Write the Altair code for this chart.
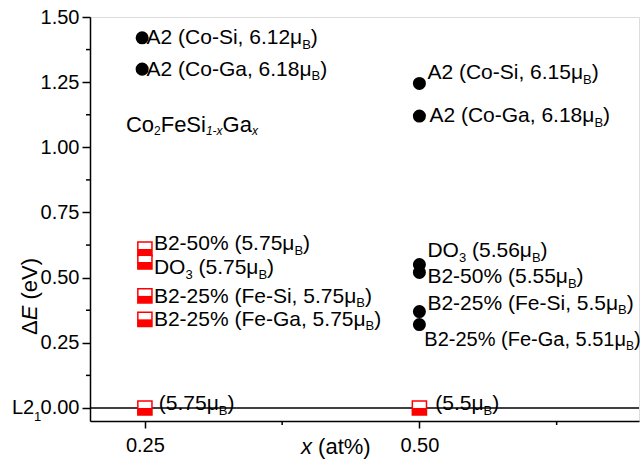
import re
import altair as alt
import pandas as pd

# ---------------- data ----------------
circle_x = [0.2475, 0.2475, 0.50, 0.50, 0.50, 0.50, 0.50, 0.50]
circle_y = [1.42, 1.30, 1.245, 1.12, 0.55, 0.52, 0.37, 0.32]

square_x = [0.25, 0.25, 0.25, 0.25, 0.25, 0.50]
square_y = [0.61, 0.56, 0.43, 0.34, 0.00, 0.00]

label_text = [
    "A2 (Co-Si, 6.12μ_{B})",
    "A2 (Co-Ga, 6.18μ_{B})",
    "A2 (Co-Si, 6.15μ_{B})",
    "A2 (Co-Ga, 6.18μ_{B})",
    "B2-50% (5.75μ_{B})",
    "DO_{3} (5.75μ_{B})",
    "B2-25% (Fe-Si, 5.75μ_{B})",
    "B2-25% (Fe-Ga, 5.75μ_{B})",
    "DO_{3} (5.56μ_{B})",
    "B2-50% (5.55μ_{B})",
    "B2-25% (Fe-Si, 5.5μ_{B})",
    "B2-25% (Fe-Ga, 5.51μ_{B})",
    "(5.75μ_{B})",
    "(5.5μ_{B})",
    "Co_{2}FeSi~{1-x}Ga~{x}",
]
label_x = [0.2515, 0.2515, 0.5073, 0.5091, 0.2582, 0.2582, 0.2582, 0.2582,
           0.5073, 0.5073, 0.5073, 0.5045, 0.2627, 0.5145, 0.2327]
label_y = [1.419, 1.297, 1.285, 1.120, 0.629, 0.537, 0.426, 0.338,
           0.602, 0.502, 0.399, 0.261, 0.015, 0.015, 1.086]
label_size = [21] * 11 + [20, 21, 21, 22]
label_sub = [13] * 11 + [12, 13, 13, 12]

x_ticks = [0.25, 0.50]
x_minor = [0.375, 0.625]
y_ticks = [0.0, 0.25, 0.50, 0.75, 1.00, 1.25, 1.50]
y_minor = [0.125, 0.375, 0.625, 0.875, 1.125, 1.375]

# ---------------- plot geometry ----------------
PW, PH = 549, 404
XD = [0.2, 0.7]
YD = [-0.05, 1.5]
XU = (XD[1] - XD[0]) / PW   # data units per pixel
YU = (YD[1] - YD[0]) / PH

# ---------------- text layout helpers ----------------
FONT = "Liberation Sans"
W = {" ": 278, "%": 889, "(": 333, ")": 333, ",": 278, "-": 333,
     ".": 278, "A": 667, "B": 667, "C": 722, "D": 722, "E": 667, "F": 611,
     "G": 778, "L": 556, "O": 778, "S": 667, "a": 556, "e": 556, "i": 222,
     "o": 556, "t": 278, "x": 500, "μ": 576, "Δ": 668, "V": 667, "v": 500}


def width(s, fs):
    return sum(W.get(c, 556) for c in s) * fs / 1000.0


SUB_DROP = 6.5
rows = []
for t, lx, ly, fs, sub in zip(label_text, label_x, label_y, label_size, label_sub):
    off = 0.0
    for part in re.split(r"(_\{[^}]*\}|~\{[^}]*\})", t):
        if not part:
            continue
        is_sub = part.startswith("_{") or part.startswith("~{")
        s = part[2:-1] if is_sub else part
        size = sub if is_sub else fs
        stripped = s.lstrip(" ")
        off += width(s[: len(s) - len(stripped)], size)   # leading blanks
        rows.append(dict(t=stripped, x=lx + off * XU,
                         y=ly - (SUB_DROP * YU if is_sub else 0.0),
                         fs=size, it=1 if part.startswith("~{") else 0))
        off += width(stripped, size)
text_df = pd.DataFrame(rows)

# ---------------- scales and axes ----------------
xs = alt.Scale(domain=XD, nice=False, zero=False)
ys = alt.Scale(domain=YD, nice=False, zero=False)
xaxis = alt.Axis(values=x_ticks, format=".2f", title=None, grid=False,
                 tickSize=7, tickWidth=1.5, tickColor="black",
                 domainColor="black", domainWidth=1.5,
                 labelFontSize=20, labelColor="black", labelPadding=7,
                 labelFont=FONT)
yaxis = alt.Axis(values=y_ticks, format=".2f", title=None, grid=False,
                 tickSize=8, tickWidth=1.5, tickColor="black",
                 domainColor="black", domainWidth=1.5,
                 labelFontSize=20, labelColor="black", labelPadding=3,
                 labelFont=FONT)

X = lambda f: alt.X(f, scale=xs, axis=xaxis)
Y = lambda f: alt.Y(f, scale=ys, axis=yaxis)

pts = pd.DataFrame({"x": circle_x, "y": circle_y})
sq = pd.DataFrame({"x": square_x, "y": square_y})

zero_rule = alt.Chart(pd.DataFrame({"y": [0.0]})).mark_rule(
    color="black", strokeWidth=1.5).encode(y=Y("y:Q"))

circles = alt.Chart(pts).mark_circle(size=170, color="black", opacity=1).encode(
    x=X("x:Q"), y=Y("y:Q"))

sq_box = alt.Chart(sq).mark_point(shape="square", size=200, filled=True,
                                  fill="white", stroke="#ff0000",
                                  strokeWidth=1.5, opacity=1).encode(
    x=X("x:Q"), y=Y("y:Q"))
sq_half = alt.Chart(sq).mark_point(shape="M-1,0H1V1H-1Z", size=200, filled=True,
                                   color="#ff0000", opacity=1).encode(
    x=X("x:Q"), y=Y("y:Q"))


def text_layer(italic):
    return alt.Chart(text_df).transform_filter(
        alt.datum.it == italic
    ).mark_text(align="left", baseline="middle", font=FONT, color="black",
                fontStyle="italic" if italic else "normal").encode(
        x=X("x:Q"), y=Y("y:Q"),
        size=alt.Size("fs:Q", scale=None, legend=None),
        text="t:N")


minor_x = alt.Chart(pd.DataFrame({"x": x_minor})).mark_rule(
    color="black", strokeWidth=1.5).encode(
    x=X("x:Q"), y=alt.value(PH), y2=alt.value(PH + 4))
minor_y = alt.Chart(pd.DataFrame({"y": y_minor})).mark_rule(
    color="black", strokeWidth=1.5).encode(
    y=Y("y:Q"), x=alt.value(-4), x2=alt.value(0))

# L2_1 label left of the 0.00 tick
l2 = alt.Chart(pd.DataFrame({"y": [0.0], "t": ["L2"]})).mark_text(
    align="left", baseline="middle", font=FONT, fontSize=20, color="black"
).encode(x=alt.value(-78), y=Y("y:Q"), text="t:N")
l2sub = alt.Chart(pd.DataFrame({"y": [0.0], "t": ["1"]})).mark_text(
    align="left", baseline="middle", font=FONT, fontSize=13, color="black",
    dy=9).encode(x=alt.value(-56), y=Y("y:Q"), text="t:N")

# axis titles built from pieces (italic variable names)
TF = 22
xt1 = alt.Chart(pd.DataFrame({"t": ["x"]})).mark_text(
    align="left", baseline="middle", font=FONT, fontSize=TF, fontStyle="italic",
    color="black").encode(x=alt.value(211), y=alt.value(430), text="t:N")
xt2 = alt.Chart(pd.DataFrame({"t": ["(at%)"]})).mark_text(
    align="left", baseline="middle", font=FONT, fontSize=TF, color="black",
    dx=width("x ", TF)).encode(x=alt.value(211), y=alt.value(430), text="t:N")

yt_parts = [("Δ", "normal"), ("E", "italic"), (" (eV)", "normal")]
yt_layers = []
off = 0.0
for s, st in yt_parts:
    stripped = s.lstrip(" ")
    off += width(s[: len(s) - len(stripped)], TF)
    yt_layers.append(alt.Chart(pd.DataFrame({"t": [stripped]})).mark_text(
        align="left", baseline="middle", font=FONT, fontSize=TF, fontStyle=st,
        color="black", angle=270, dx=off).encode(
        x=alt.value(-60), y=alt.value(318), text="t:N"))
    off += width(stripped, TF)

chart = alt.layer(
    zero_rule, circles, sq_box, sq_half, text_layer(0), text_layer(1),
    minor_x, minor_y, l2, l2sub, xt1, xt2, *yt_layers
).properties(
    width=PW, height=PH,
    autosize=alt.AutoSizeParams(type="none"),
    padding={"left": 90, "top": 17, "right": 1, "bottom": 40},
    background="white",
).configure_view(stroke="black", strokeWidth=1.5).configure(font=FONT)

chart.save("out.html", embed_options={"renderer": "svg", "actions": False})
